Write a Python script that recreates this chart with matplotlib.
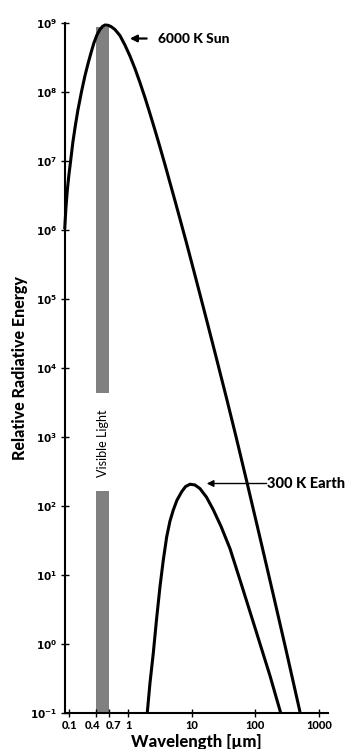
import matplotlib
matplotlib.use("Agg")
import matplotlib.pyplot as plt
from matplotlib.transforms import ScaledTranslation

plt.rcParams['font.family'] = ['Lato', 'DejaVu Sans']
plt.rcParams['mathtext.fontset'] = 'dejavusans'

# values (wavelength in um, relative energy)
sun_wavelength = [0.100, 0.1045, 0.110, 0.1164, 0.1239, 0.1346, 0.1475, 0.1614, 0.1846,
                  0.208, 0.232, 0.259, 0.288, 0.3214, 0.358, 0.3925, 0.4297, 0.479,
                  0.534, 0.618, 0.740, 0.887, 1.064, 1.275, 1.528, 1.833, 2.197, 2.633,
                  3.157, 3.784, 4.535, 5.436, 6.516, 8.31, 11.23, 16.14, 23.2, 35.4,
                  49.7, 73.2, 118.6, 192, 304, 506]
sun_energy = [1.02e6, 2.06e6, 3.76e6, 6.2e6, 9.9e6, 1.87e7, 3.29e7, 5.43e7, 1.02e8,
              1.69e8, 2.52e8, 3.64e8, 5.08e8, 6.63e8, 7.96e8, 8.81e8, 9.26e8, 9.17e8,
              8.81e8, 7.96e8, 6.52e8, 4.75e8, 3.29e8, 2.17e8, 1.36e8, 8.24e7, 4.83e7, 2.79e7,
              1.58e7, 8.81e6, 4.83e6, 2.65e6, 1.44e6, 6.31e5, 2.20e5, 6.1e4, 1.66e4, 3.58e3,
              1.01e3, 228, 34.6, 5.16, 0.824, 0.103]

earth_wavelength = [1.992, 2.197, 2.476, 2.78, 3.157, 3.56, 4.03, 4.535, 5.11, 5.85,
                    6.93, 7.96, 9.37, 11.23, 13.46, 17.04, 21.8, 28.8, 40.0, 59.6,
                    93.0, 127.6, 170.4, 249.5]
earth_energy = [0.1, 0.269, 0.726, 2.20, 6.70, 16.3, 35.6, 60.0, 86.7, 121,
                160, 190, 206, 201, 178, 134, 88.0, 50.8, 24.0, 7.58,
                2.06, 0.811, 0.346, 0.102]

# visible band (drawn between the 0.4 and 0.7 ticks of the original)
band_x = [0.31, 0.50]
band_segments = [(0.1, 165), (4.3e3, 8.8e8)]

x_ticks = [0.1186, 0.31, 0.50, 1, 10, 100, 1000]
x_tick_labels = ['0.1', '0.4', '0.7', '1', '10', '100', '1000']
y_exponents = list(range(-1, 10))

fig = plt.figure(figsize=(3.52, 7.49), dpi=100)
ax = fig.add_axes([0.1838, 0.0481, 0.7489, 0.9216])
ax.set_xscale('log')
ax.set_yscale('log')
ax.set_xlim(0.1, 1410)
ax.set_ylim(0.1, 1e9)

for lo, hi in band_segments:
    ax.fill_between(band_x, lo, hi, color='#808080', lw=0, zorder=1)
ax.text(0.395, 8.1e2, 'Visible Light', rotation=90, ha='center', va='center',
        fontsize=9, color='black', zorder=2)

ax.plot(sun_wavelength, sun_energy, color='black', lw=2.2, zorder=3,
        solid_capstyle='butt', clip_on=False)
ax.plot(earth_wavelength, earth_energy, color='black', lw=2.2, zorder=3,
        solid_capstyle='butt', clip_on=False)

ax.annotate('', xy=(1.06, 5.9e8), xytext=(1.95, 5.9e8),
            arrowprops=dict(arrowstyle='-|>', color='black', lw=1.6, mutation_scale=10,
                            shrinkA=0, shrinkB=0))
ax.text(2.97, 5.9e8, '6000 K Sun', fontsize=10, fontweight='black', va='center', ha='left')

ax.annotate('', xy=(17.2, 211), xytext=(151, 211),
            arrowprops=dict(arrowstyle='-|>', color='black', lw=1.0, mutation_scale=10,
                            shrinkA=0, shrinkB=0))
ax.text(151, 211, '300 K Earth', fontsize=10.5, fontweight='black', va='center', ha='left')

ax.set_xticks(x_ticks)
ax.set_xticklabels(x_tick_labels)
ax.set_yticks([10.0 ** k for k in y_exponents])
ax.set_yticklabels([r'$\mathbf{10^{%d}}$' % k for k in y_exponents])
ax.minorticks_off()
ax.tick_params(axis='both', direction='inout', length=6, width=1, color='black')
ax.tick_params(axis='x', labelsize=8, pad=2)
ax.tick_params(axis='y', labelsize=7.5, pad=2.5)
for lab in ax.get_xticklabels():
    lab.set_fontweight('black')

# spread the crowded 0.4 / 0.7 labels apart like in the original
xlabs = ax.get_xticklabels()
xlabs[1].set_transform(xlabs[1].get_transform() + ScaledTranslation(-3.5 / 100, 0, fig.dpi_scale_trans))
xlabs[2].set_transform(xlabs[2].get_transform() + ScaledTranslation(4 / 100, 0, fig.dpi_scale_trans))

for side in ['top', 'right']:
    ax.spines[side].set_visible(False)
for side in ['left', 'bottom']:
    ax.spines[side].set_linewidth(1.5)

ax.set_xlabel('Wavelength [\u00b5m]', fontsize=12, fontweight='black')
ax.xaxis.set_label_coords(0.5, -0.030)
ax.set_ylabel('Relative Radiative Energy', fontsize=11.5, fontweight='black')
ax.yaxis.set_label_coords(-0.138, 0.5)

fig.savefig('out.png', dpi=100)
